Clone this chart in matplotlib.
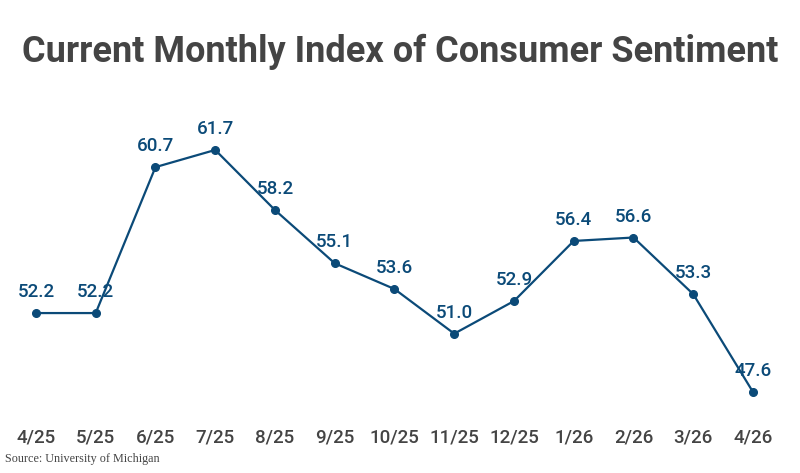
import matplotlib
matplotlib.use("Agg")
import matplotlib.pyplot as plt

months = ["4/25", "5/25", "6/25", "7/25", "8/25", "9/25", "10/25",
          "11/25", "12/25", "1/26", "2/26", "3/26", "4/26"]
sentiment = [52.2, 52.2, 60.7, 61.7, 58.2, 55.1, 53.6, 51.0, 52.9, 56.4, 56.6, 53.3, 47.6]

line_color = "#0b4a78"

fig = plt.figure(figsize=(8, 4.73), dpi=100)
ax = fig.add_axes([0.0076, 0.112, 0.971, 0.6766])
x = list(range(len(months)))
ax.plot(x, sentiment, color=line_color, linewidth=1.6, marker="o", markersize=5.5)

for xi, v in zip(x, sentiment):
    ax.annotate(f"{v:.1f}", (xi, v), xytext=(0, 8.5), textcoords="offset points",
                ha="center", va="bottom", fontsize=13.5, color=line_color,
                fontfamily="Roboto", fontweight="medium")

ax.set_xlim(-0.5, 12.5)
ax.set_ylim(45.97, 64.61)
ax.set_xticks(x)
ax.set_xticklabels(months, fontfamily="Roboto", fontweight="medium", fontsize=13.5, color="#444444")
ax.tick_params(axis="x", length=0, pad=6)
ax.set_yticks([])
for s in ax.spines.values():
    s.set_visible(False)

fig.text(0.5, 0.89, "Current Monthly Index of Consumer Sentiment", ha="center", va="center",
         fontsize=26, fontweight="bold", fontfamily="Roboto", color="#444444")
fig.text(0.006, 0.03, "Source: University of Michigan", ha="left", va="center",
         fontsize=8.7, fontfamily="Liberation Serif", color="#444444")

fig.savefig("out.png", dpi=100)
plt.close(fig)
